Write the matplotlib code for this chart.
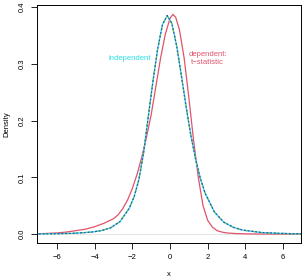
import numpy as np
import matplotlib
matplotlib.use("Agg")
import matplotlib.pyplot as plt

plt.rcParams['font.family'] = ['Liberation Sans', 'DejaVu Sans']

# density of the independent samples (several overlapping runs)
x_ind = [-7.15, -6.15, -5.15, -4.15, -3.65, -3.15, -2.65, -2.15, -1.9, -1.65,
         -1.4, -1.15, -0.9, -0.65, -0.4, -0.15, 0.1, 0.35, 0.6, 0.85, 1.1,
         1.35, 1.6, 1.85, 2.35, 2.85, 3.35, 3.85, 4.85, 5.85, 6.85, 7.0]
y_ind = [0.0003, 0.0006, 0.0013, 0.0035, 0.006, 0.011, 0.022, 0.046, 0.066,
         0.096, 0.143, 0.207, 0.270, 0.327, 0.369, 0.385, 0.371, 0.332, 0.280,
         0.225, 0.175, 0.133, 0.099, 0.073, 0.039, 0.021, 0.012, 0.007,
         0.0027, 0.0012, 0.0005, 0.0004]

# density of the dependent t-statistic
x_dep = [-7, -6.5, -6, -5.5, -5, -4.5, -4, -3.5, -3, -2.75, -2.5, -2.25, -2,
         -1.75, -1.5, -1.25, -1, -0.75, -0.5, -0.25, 0, 0.15, 0.3, 0.5, 0.75,
         1, 1.25, 1.5, 1.75, 2, 2.25, 2.5, 2.75, 3, 3.5, 4, 4.5, 5, 6, 7]
y_dep = [0.0005, 0.0012, 0.002, 0.0035, 0.006, 0.0085, 0.013, 0.019, 0.027,
         0.034, 0.045, 0.060, 0.080, 0.105, 0.135, 0.170, 0.210, 0.260, 0.310,
         0.352, 0.380, 0.387, 0.382, 0.360, 0.310, 0.240, 0.165, 0.100, 0.050,
         0.024, 0.012, 0.006, 0.0035, 0.002, 0.0009, 0.0004, 0.0002, 0.0001,
         0.0, 0.0]

fig = plt.figure(figsize=(3.06, 2.8), dpi=100)
ax = fig.add_axes([0.121, 0.132, 0.863, 0.85])

ax.axhline(0, color='#e6e6e6', lw=0.8, zorder=0)
ax.plot(x_dep, y_dep, color='#DF536B', lw=0.9)
ax.plot(x_ind, y_ind, color='#28E2E5', lw=0.9)
ax.plot(x_ind, y_ind, color='#61D04F', lw=0.9, ls=(0, (3, 3)))
ax.plot(x_ind, y_ind, color='#3a4fc8', lw=0.9, ls=(0, (1.5, 1.5)))

ax.text(-2.15, 0.31, 'independent', color='#28E2E5', fontsize=5.5,
        ha='center', va='center')
ax.text(2.0, 0.309, 'dependent:\nt\u2212statistic', color='#DF536B',
        fontsize=5.5, ha='center', va='center', linespacing=1.1)

ax.set_xlim(-7.05, 6.95)
ax.set_ylim(-0.0158, 0.4035)
ax.set_xticks([-6, -4, -2, 0, 2, 4, 6])
ax.set_xticklabels(['\u22126', '\u22124', '\u22122', '0', '2', '4', '6'])
ax.set_yticks([0.0, 0.1, 0.2, 0.3, 0.4])
ax.set_yticklabels(['0.0', '0.1', '0.2', '0.3', '0.4'], rotation=90,
                   va='center')
ax.tick_params(direction='out', length=4, width=0.6, labelsize=5.5, pad=4)
for s in ax.spines.values():
    s.set_linewidth(0.7)
ax.set_xlabel('x', fontsize=5.5, labelpad=7)
ax.set_ylabel('Density', fontsize=5.5, labelpad=6)

fig.savefig('out.png', dpi=100)
